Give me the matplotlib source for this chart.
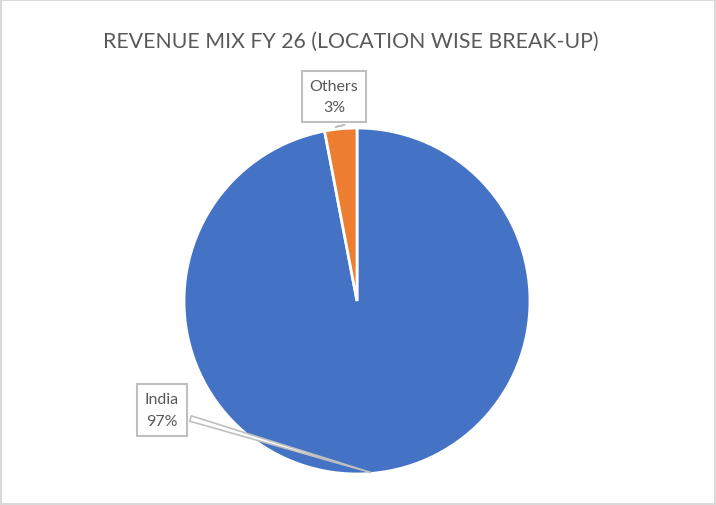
import numpy as np
import matplotlib.pyplot as plt

labels = ['India', 'Others']
shares = [97, 3]
colors = ['#4472c4', '#ed7d31']
title = 'REVENUE MIX FY 26 (LOCATION WISE BREAK-UP)'

plt.rcParams['font.family'] = ['Lato', 'DejaVu Sans']
txt_col = '#595959'

fig = plt.figure(figsize=(7.16, 5.06), dpi=100)
fig.patch.set_edgecolor('#d9d9d9')
fig.patch.set_linewidth(1.5)

# pie centre at (357, 302) px, radius 173 px
W, H = 716, 506
cx, cy, half = 357, 302, 180
ax = fig.add_axes([(cx - half) / W, (H - cy - half) / H, 2 * half / W, 2 * half / H])

wedges, _ = ax.pie(shares, colors=colors, startangle=90, counterclock=False,
                   radius=1, wedgeprops=dict(edgecolor='white', linewidth=2))

lim = half / 173
ax.set_xlim(-lim, lim)
ax.set_ylim(-lim, lim)
ax.set_aspect('equal')
ax.axis('off')

# callout text positions (data units, radius = 1)
text_pos = {'India': (-1.127, -0.630), 'Others': (-0.133, 1.18)}
wedge_w = {'India': 'wedge,tail_width=0.35,shrink_factor=0.5',
           'Others': 'wedge,tail_width=0.6,shrink_factor=0.5'}

for w, lab, s in zip(wedges, labels, shares):
    mid = np.deg2rad((w.theta1 + w.theta2) / 2)
    tip = (np.cos(mid), np.sin(mid))
    ax.annotate(f'{lab}\n{s}%', xy=tip, xytext=text_pos[lab],
                ha='center', va='center', fontsize=11.5, color=txt_col,
                linespacing=1.65, annotation_clip=False,
                bbox=dict(boxstyle='square,pad=0.5', fc='white', ec='#bfbfbf', lw=1.5),
                arrowprops=dict(arrowstyle=wedge_w[lab], fc='white', ec='#bfbfbf', lw=1.2))

fig.text(351 / W, 1 - 42 / H, title, ha='center', va='center', fontsize=15.3, color=txt_col)

fig.savefig('out.png', dpi=100)
